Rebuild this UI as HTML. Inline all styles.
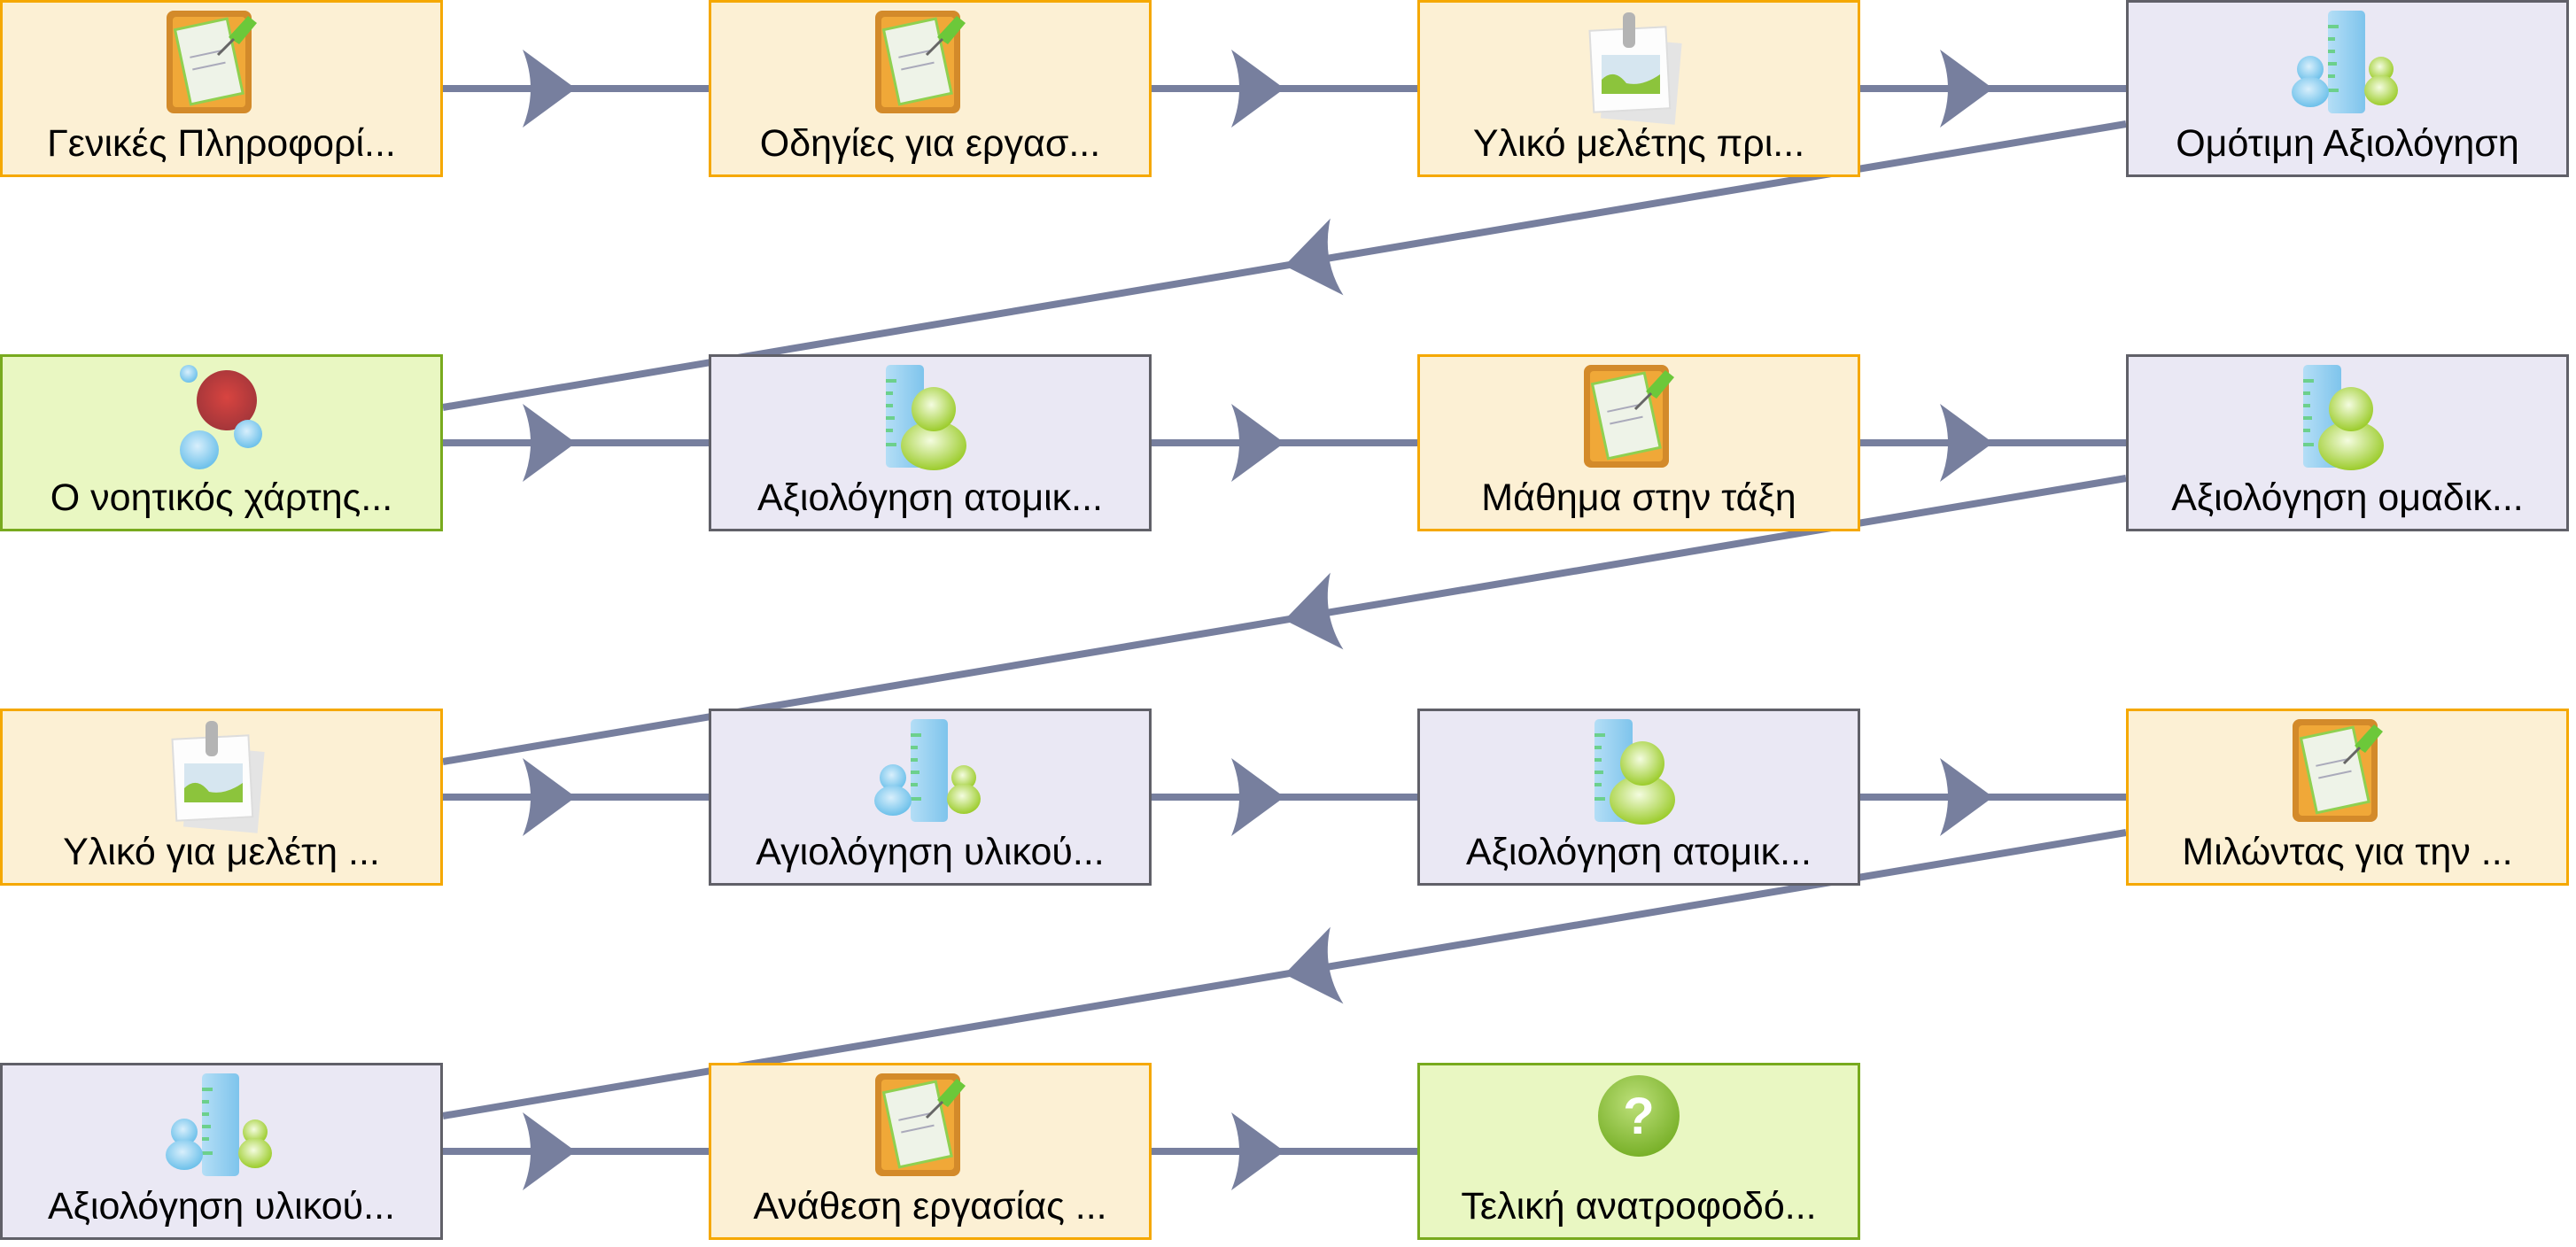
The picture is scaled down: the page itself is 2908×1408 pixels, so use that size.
<!DOCTYPE html>
<html><head><meta charset="utf-8"><style>
html,body{margin:0;padding:0;background:#fff;width:2908px;height:1408px;overflow:hidden}
text{font-family:"Liberation Sans","DejaVu Sans",sans-serif;font-size:43px;fill:#000;text-anchor:middle}
</style></head><body>
<svg width="2908" height="1408" viewBox="0 0 2908 1408" xmlns="http://www.w3.org/2000/svg">
<defs>
<radialGradient id="gb" cx="0.45" cy="0.4" r="0.6"><stop offset="0" stop-color="#d8effc"/><stop offset="1" stop-color="#6cc0ea"/></radialGradient>
<radialGradient id="gg" cx="0.45" cy="0.4" r="0.6"><stop offset="0" stop-color="#f4fce0"/><stop offset="1" stop-color="#9ccc2c"/></radialGradient>
<radialGradient id="gr" cx="0.5" cy="0.45" r="0.55"><stop offset="0" stop-color="#d84440"/><stop offset="1" stop-color="#a4363a"/></radialGradient>
<linearGradient id="rul" x1="0" x2="1"><stop offset="0" stop-color="#b4def6"/><stop offset="1" stop-color="#7ec4ec"/></linearGradient>
<radialGradient id="gq" cx="0.45" cy="0.35" r="0.65"><stop offset="0" stop-color="#bde07a"/><stop offset="1" stop-color="#78b028"/></radialGradient>
<g id="clip">
<rect x="-62" y="-88" width="96" height="116" rx="8" fill="#d38a2a"/>
<rect x="-55" y="-81" width="82" height="102" rx="4" fill="#f0a838"/>
<g transform="rotate(-12 -12 -30)"><rect x="-44" y="-74" width="60" height="86" fill="#eef3e8" stroke="#8fd050" stroke-width="3"/>
<line x1="-34" y1="-40" x2="4" y2="-40" stroke="#aab" stroke-width="2"/><line x1="-34" y1="-26" x2="4" y2="-26" stroke="#aab" stroke-width="2"/></g>
<path d="M8 -58 L30 -82 L40 -74 L20 -50 Z" fill="#6cc83a"/>
<line x1="14" y1="-56" x2="-4" y2="-38" stroke="#666" stroke-width="3"/>
</g>
<g id="pic">
<rect x="-40" y="-55" width="84" height="92" fill="#e4e4e4" transform="rotate(5)"/>
<rect x="-52" y="-68" width="86" height="92" fill="#fdfdfd" stroke="#ddd" stroke-width="2" transform="rotate(-3)"/>
<rect x="-42" y="-38" width="66" height="44" fill="#d6e6f0"/>
<path d="M-42 -10 Q-28 -24 -14 -6 Q4 -2 24 -16 L24 6 L-42 6 Z" fill="#8cc43c"/>
<rect x="-18" y="-86" width="14" height="40" rx="6" fill="#b4b4b4"/>
</g>
<g id="multi">
<rect x="-22" y="-88" width="42" height="116" rx="5" fill="url(#rul)"/>
<g fill="#6cd08c"><rect x="-22" y="-72" width="12" height="4"/><rect x="-22" y="-58" width="8" height="4"/><rect x="-22" y="-44" width="8" height="4"/><rect x="-22" y="-30" width="10" height="4"/><rect x="-22" y="-16" width="8" height="4"/><rect x="-22" y="-0" width="12" height="4"/></g>
<circle cx="-42" cy="-22" r="15" fill="url(#gb)"/><ellipse cx="-42" cy="4" rx="21" ry="17" fill="url(#gb)"/>
<circle cx="38" cy="-22" r="14" fill="url(#gg)"/><ellipse cx="38" cy="2" rx="19" ry="17" fill="url(#gg)"/>
</g>
<g id="single">
<rect x="-50" y="-88" width="43" height="116" rx="5" fill="url(#rul)"/>
<g fill="#6cd08c"><rect x="-50" y="-72" width="12" height="4"/><rect x="-50" y="-58" width="8" height="4"/><rect x="-50" y="-44" width="8" height="4"/><rect x="-50" y="-30" width="10" height="4"/><rect x="-50" y="-16" width="8" height="4"/><rect x="-50" y="-0" width="12" height="4"/></g>
<ellipse cx="4" cy="3" rx="37" ry="28" fill="url(#gg)"/>
<circle cx="4" cy="-38" r="25" fill="url(#gg)"/>
</g>
<g id="mind">
<circle cx="-37" cy="-78" r="10" fill="url(#gb)"/>
<circle cx="6" cy="-48" r="34" fill="url(#gr)"/>
<circle cx="30" cy="-10" r="16" fill="url(#gb)"/>
<circle cx="-25" cy="8" r="22" fill="url(#gb)"/>
</g>
<g id="ques">
<circle cx="0" cy="-40" r="46" fill="url(#gq)"/>
<text x="0" y="-20" style="font-size:58px;fill:#fff;font-weight:bold">?</text>
</g>
<path id="ah" d="M0 0 L-60 -44 Q-42 0 -60 44 Z" fill="#777f9e"/>
</defs>

<g stroke="#777f9e" stroke-width="8" fill="none">
<line x1="500" y1="100" x2="800" y2="100"/><line x1="1300" y1="100" x2="1600" y2="100"/><line x1="2100" y1="100" x2="2400" y2="100"/>
<line x1="500" y1="500" x2="800" y2="500"/><line x1="1300" y1="500" x2="1600" y2="500"/><line x1="2100" y1="500" x2="2400" y2="500"/>
<line x1="500" y1="900" x2="800" y2="900"/><line x1="1300" y1="900" x2="1600" y2="900"/><line x1="2100" y1="900" x2="2400" y2="900"/>
<line x1="500" y1="1300" x2="800" y2="1300"/><line x1="1300" y1="1300" x2="1600" y2="1300"/>
<line x1="2400" y1="140" x2="500" y2="460"/><line x1="2400" y1="540" x2="500" y2="860"/><line x1="2400" y1="940" x2="500" y2="1260"/>
</g>
<use href="#ah" x="650" y="100"/><use href="#ah" x="1450" y="100"/><use href="#ah" x="2250" y="100"/>
<use href="#ah" x="650" y="500"/><use href="#ah" x="1450" y="500"/><use href="#ah" x="2250" y="500"/>
<use href="#ah" x="650" y="900"/><use href="#ah" x="1450" y="900"/><use href="#ah" x="2250" y="900"/>
<use href="#ah" x="650" y="1300"/><use href="#ah" x="1450" y="1300"/>
<g transform="translate(1450 300) rotate(170.44)"><use href="#ah"/></g>
<g transform="translate(1450 700) rotate(170.44)"><use href="#ah"/></g>
<g transform="translate(1450 1100) rotate(170.44)"><use href="#ah"/></g>

<g stroke-width="3">
<rect x="1.5" y="1.5" width="497" height="197" fill="#fcf0d4" stroke="#f5a800"/>
<rect x="801.5" y="1.5" width="497" height="197" fill="#fcf0d4" stroke="#f5a800"/>
<rect x="1601.5" y="1.5" width="497" height="197" fill="#fcf0d4" stroke="#f5a800"/>
<rect x="2401.5" y="1.5" width="497" height="197" fill="#eae8f4" stroke="#606068"/>
<rect x="1.5" y="401.5" width="497" height="197" fill="#e9f7c2" stroke="#78aa1e"/>
<rect x="801.5" y="401.5" width="497" height="197" fill="#eae8f4" stroke="#606068"/>
<rect x="1601.5" y="401.5" width="497" height="197" fill="#fcf0d4" stroke="#f5a800"/>
<rect x="2401.5" y="401.5" width="497" height="197" fill="#eae8f4" stroke="#606068"/>
<rect x="1.5" y="801.5" width="497" height="197" fill="#fcf0d4" stroke="#f5a800"/>
<rect x="801.5" y="801.5" width="497" height="197" fill="#eae8f4" stroke="#606068"/>
<rect x="1601.5" y="801.5" width="497" height="197" fill="#eae8f4" stroke="#606068"/>
<rect x="2401.5" y="801.5" width="497" height="197" fill="#fcf0d4" stroke="#f5a800"/>
<rect x="1.5" y="1201.5" width="497" height="197" fill="#eae8f4" stroke="#606068"/>
<rect x="801.5" y="1201.5" width="497" height="197" fill="#fcf0d4" stroke="#f5a800"/>
<rect x="1601.5" y="1201.5" width="497" height="197" fill="#e9f7c2" stroke="#78aa1e"/>
</g>

<use href="#clip" x="250" y="100"/><use href="#clip" x="1050" y="100"/><use href="#pic" x="1850" y="100"/><use href="#multi" x="2650" y="100"/>
<use href="#mind" x="250" y="500"/><use href="#single" x="1050" y="500"/><use href="#clip" x="1850" y="500"/><use href="#single" x="2650" y="500"/>
<use href="#pic" x="250" y="900"/><use href="#multi" x="1050" y="900"/><use href="#single" x="1850" y="900"/><use href="#clip" x="2650" y="900"/>
<use href="#multi" x="250" y="1300"/><use href="#clip" x="1050" y="1300"/><use href="#ques" x="1850" y="1300"/>

<text x="250" y="176">Γενικές Πληροφορί...</text>
<text x="1050" y="176">Οδηγίες για εργασ...</text>
<text x="1850" y="176">Υλικό μελέτης πρι...</text>
<text x="2650" y="176">Ομότιμη Αξιολόγηση</text>
<text x="250" y="576">Ο νοητικός χάρτης...</text>
<text x="1050" y="576">Αξιολόγηση ατομικ...</text>
<text x="1850" y="576">Μάθημα στην τάξη</text>
<text x="2650" y="576">Αξιολόγηση ομαδικ...</text>
<text x="250" y="976">Υλικό για μελέτη ...</text>
<text x="1050" y="976">Αγιολόγηση υλικού...</text>
<text x="1850" y="976">Αξιολόγηση ατομικ...</text>
<text x="2650" y="976">Μιλώντας για την ...</text>
<text x="250" y="1376">Αξιολόγηση υλικού...</text>
<text x="1050" y="1376">Ανάθεση εργασίας ...</text>
<text x="1850" y="1376">Τελική ανατροφοδό...</text>
</svg>
</body></html>
